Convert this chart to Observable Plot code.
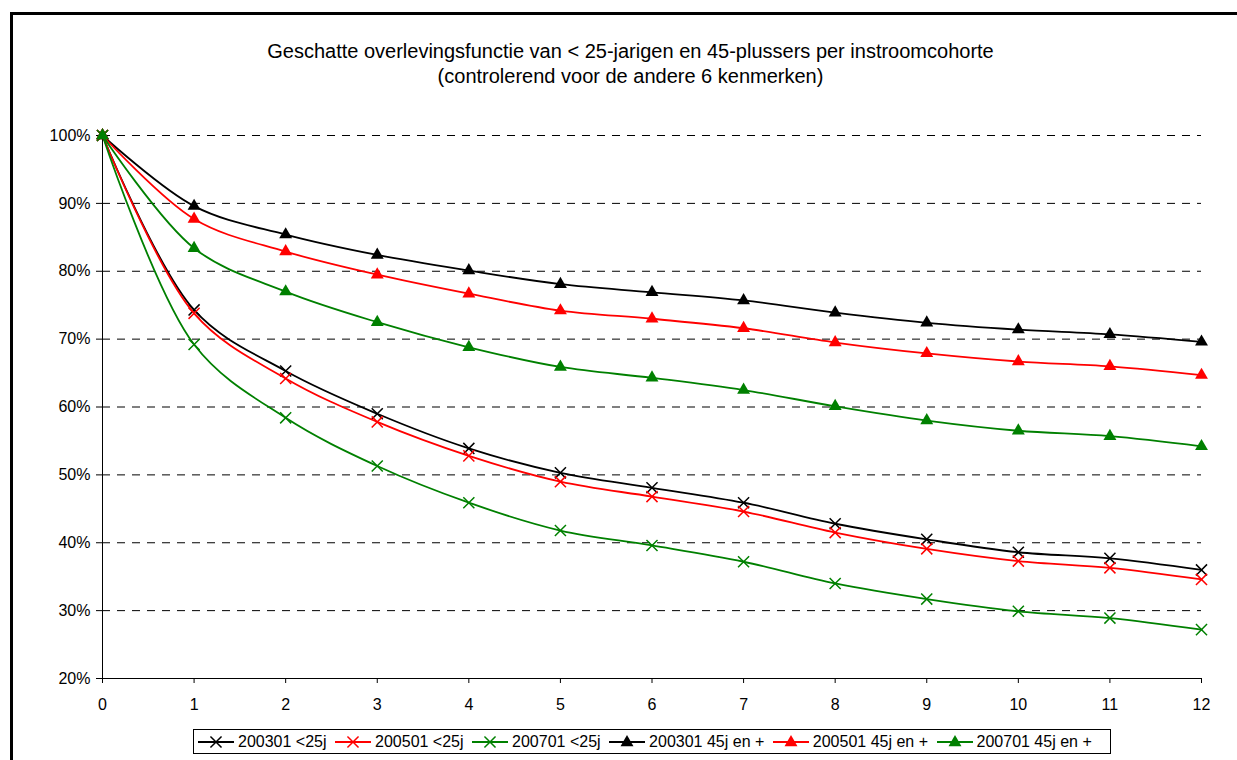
<!DOCTYPE html>
<html>
<head>
<meta charset="utf-8">
<script src="https://cdn.jsdelivr.net/npm/d3@7"></script>
<script src="https://cdn.jsdelivr.net/npm/@observablehq/plot@0.6"></script>
<style>
  html, body { margin: 0; padding: 0; background: #fff; overflow: hidden; width: 1237px; height: 760px; }
  body { font-family: "Liberation Sans", Arial, sans-serif; position: relative; }
  #frame { position: absolute; left: 10px; top: 12px; width: 1300px; height: 800px; border: 3px solid #000; box-sizing: border-box; }
  #title { position: absolute; left: 0; top: 39px; width: 1261px; text-align: center; font-size: 20px; line-height: 25px; color: #000; }
  #chart { position: absolute; left: 0; top: 100px; }
  #legend { position: absolute; left: 193px; top: 729px; width: 918px; height: 25px; border: 1px solid #000; box-sizing: border-box; display: flex; align-items: center; padding-left: 4px; font-size: 16px; white-space: nowrap; }
  .item { display: flex; align-items: center; margin-right: 8.5px; }
  .item svg { margin-right: 4px; }
</style>
</head>
<body>
<div id="frame"></div>
<div id="title">Geschatte overlevingsfunctie van &lt; 25-jarigen en 45-plussers per instroomcohorte<br>(controlerend voor de andere 6 kenmerken)</div>
<div id="chart"></div>
<div id="legend"></div>
<script>
// Data
const years = [0, 1, 2, 3, 4, 5, 6, 7, 8, 9, 10, 11, 12];
const s200301_u25 = [100, 74.3, 65.3, 59.0, 53.9, 50.3, 48.1, 45.9, 42.8, 40.5, 38.6, 37.7, 36.0];
const s200501_u25 = [100, 73.8, 64.2, 57.8, 52.8, 49.0, 46.8, 44.6, 41.5, 39.1, 37.3, 36.3, 34.6];
const s200701_u25 = [100, 69.2, 58.4, 51.3, 45.9, 41.8, 39.6, 37.2, 34.0, 31.7, 29.9, 28.9, 27.2];
const s200301_45 = [100, 89.6, 85.4, 82.4, 80.1, 78.1, 76.9, 75.7, 73.9, 72.4, 71.4, 70.7, 69.6];
const s200501_45 = [100, 87.7, 82.9, 79.5, 76.7, 74.2, 73.0, 71.6, 69.5, 67.9, 66.7, 66.0, 64.7];
const s200701_45 = [100, 83.4, 77.0, 72.5, 68.8, 65.9, 64.3, 62.5, 60.1, 58.0, 56.5, 55.7, 54.2];
const seriesNames = ["200301 <25j", "200501 <25j", "200701 <25j", "200301 45j en +", "200501 45j en +", "200701 45j en +"];
const seriesValues = [s200301_u25, s200501_u25, s200701_u25, s200301_45, s200501_45, s200701_45];
const seriesColors = ["#000000", "#ff0000", "#008000", "#000000", "#ff0000", "#008000"];
const seriesSymbols = ["times", "times", "times", "triangle", "triangle", "triangle"];
const yTicks = [20, 30, 40, 50, 60, 70, 80, 90, 100];
const gridTicks = [30, 40, 50, 60, 70, 80, 90, 100];

const marks = [];
marks.push(Plot.ruleY(gridTicks, {stroke: "#000", strokeWidth: 1, strokeDasharray: "8,7"}));
marks.push(Plot.axisY({ticks: yTicks, tickFormat: d => d + "%", tickSize: 6, tickPadding: 6, fontSize: 16, stroke: "#000", color: "#000", label: null}));
marks.push(Plot.axisX({ticks: years, tickFormat: d => String(d), tickSize: 5, tickPadding: 15, fontSize: 16, color: "#000", label: null}));
marks.push(Plot.ruleX([0], {stroke: "#000", strokeWidth: 1}));
marks.push(Plot.ruleY([20], {stroke: "#000", strokeWidth: 1}));

seriesValues.forEach((vals, i) => {
  const data = years.map((x, k) => ({x, y: vals[k]}));
  marks.push(Plot.line(data, {x: "x", y: "y", stroke: seriesColors[i], strokeWidth: 1.8, curve: "catmull-rom"}));
  if (seriesSymbols[i] === "times") {
    marks.push(Plot.dot(data, {x: "x", y: "y", symbol: "times", r: 5.1, stroke: seriesColors[i], strokeWidth: 1.5}));
  } else {
    marks.push(Plot.dot(data, {x: "x", y: "y", symbol: "triangle", r: 4.8, fill: seriesColors[i], stroke: "none"}));
  }
});

const chart = Plot.plot({
  width: 1237,
  height: 620,
  marginLeft: 102,
  marginRight: 36,
  marginTop: 35,
  marginBottom: 42,
  style: {fontFamily: "'Liberation Sans', Arial, sans-serif", fontSize: "16px", background: "transparent", color: "#000"},
  x: {domain: [0, 12], label: null},
  y: {domain: [20, 100], label: null},
  marks
});
document.getElementById("chart").appendChild(chart);

// Legend
const legend = document.getElementById("legend");
seriesNames.forEach((name, i) => {
  const item = document.createElement("div");
  item.className = "item";
  const svg = d3.create("svg").attr("width", 36).attr("height", 14);
  svg.append("line").attr("x1", 0).attr("x2", 36).attr("y1", 7).attr("y2", 7)
    .attr("stroke", seriesColors[i]).attr("stroke-width", 1.8);
  if (seriesSymbols[i] === "times") {
    svg.append("path").attr("transform", "translate(18,7)")
      .attr("d", d3.symbol(d3.symbolTimes, Math.PI * 5.1 * 5.1)())
      .attr("stroke", seriesColors[i]).attr("stroke-width", 1.5).attr("fill", "none");
  } else {
    svg.append("path").attr("transform", "translate(18,7.5)")
      .attr("d", d3.symbol(d3.symbolTriangle, Math.PI * 4.8 * 4.8)())
      .attr("fill", seriesColors[i]);
  }
  item.appendChild(svg.node());
  const t = document.createElement("span");
  t.textContent = name;
  item.appendChild(t);
  legend.appendChild(item);
});
</script>
</body>
</html>
